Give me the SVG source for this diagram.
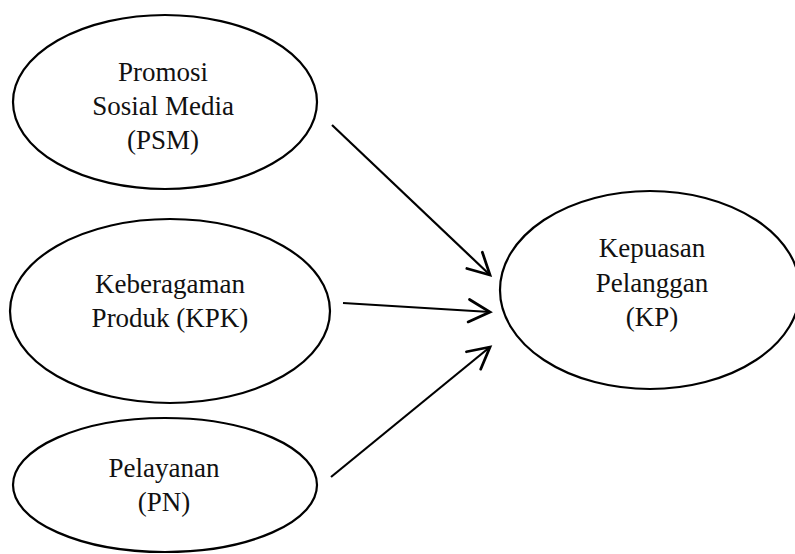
<svg xmlns="http://www.w3.org/2000/svg" width="795" height="554" viewBox="0 0 795 554">
  <style>
    .node ellipse { fill: #ffffff; stroke: #000000; stroke-width: 2.2; }
    .node text { font-family: "Liberation Serif", "Times New Roman", serif; font-size: 27px; fill: #111111; text-anchor: middle; }
    .conn line { stroke: #000000; stroke-width: 2.2; fill: none; }
  </style>
  <defs>
    <marker id="arrow" markerUnits="userSpaceOnUse" markerWidth="30" markerHeight="30" refX="0" refY="0" viewBox="-20 -12 24 24" orient="auto" overflow="visible">
      <path d="M-17,-9 L0,0 L-17,9" fill="none" stroke="#000000" stroke-width="2.2" stroke-linecap="round" stroke-linejoin="miter"/>
    </marker>
  </defs>
  <rect width="795" height="554" fill="#ffffff"/>
  <g id="node-psm" class="node">
    <ellipse cx="165" cy="102" rx="152" ry="87"/>
    <text x="163" y="81">Promosi</text>
    <text x="163" y="115">Sosial Media</text>
    <text x="163" y="149">(PSM)</text>
  </g>
  <g id="node-kpk" class="node">
    <ellipse cx="170" cy="311" rx="160" ry="92"/>
    <text x="170" y="293">Keberagaman</text>
    <text x="170" y="327">Produk (KPK)</text>
  </g>
  <g id="node-pn" class="node">
    <ellipse cx="165" cy="485" rx="152" ry="67"/>
    <text x="164" y="477">Pelayanan</text>
    <text x="164" y="511">(PN)</text>
  </g>
  <g id="node-kp" class="node">
    <ellipse cx="650" cy="290" rx="150" ry="99"/>
    <text x="652" y="257">Kepuasan</text>
    <text x="652" y="292">Pelanggan</text>
    <text x="652" y="326">(KP)</text>
  </g>
  <g id="connectors" class="conn">
    <line x1="332" y1="125" x2="490" y2="275" marker-end="url(#arrow)"/>
    <line x1="343" y1="303" x2="490" y2="312" marker-end="url(#arrow)"/>
    <line x1="331" y1="477" x2="490" y2="347" marker-end="url(#arrow)"/>
  </g>
</svg>
